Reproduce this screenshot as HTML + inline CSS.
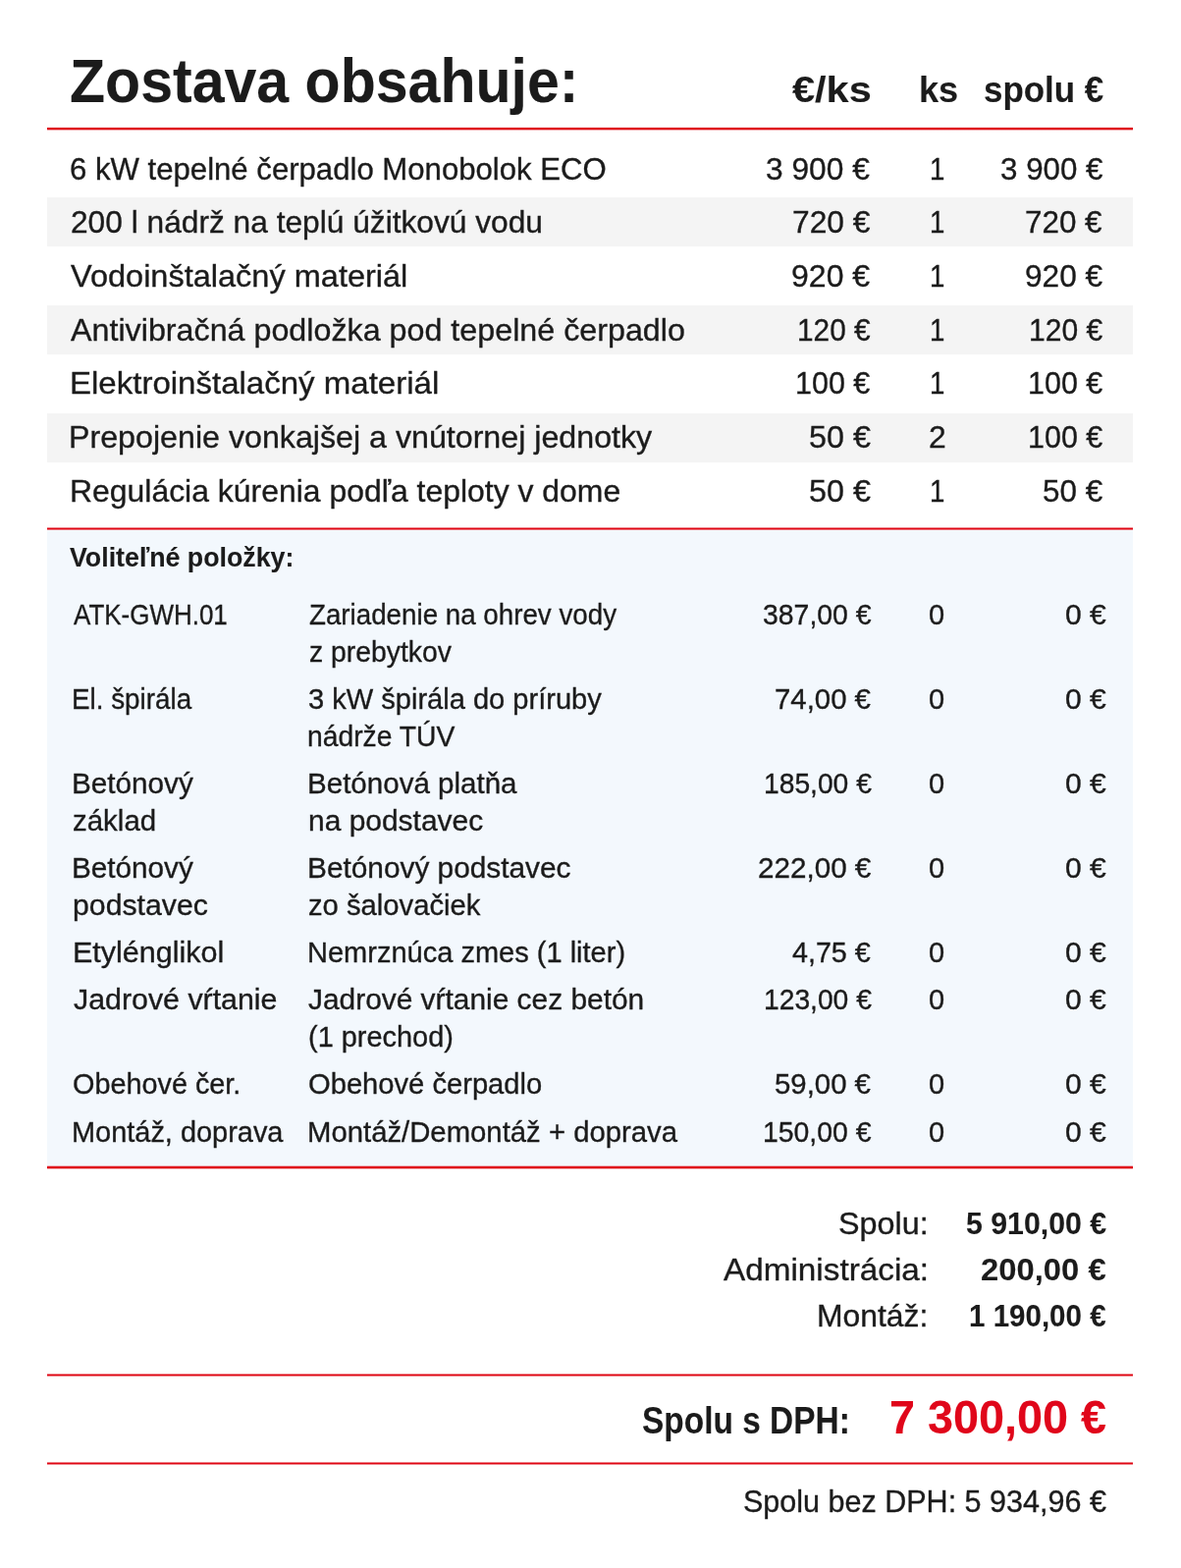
<!DOCTYPE html><html lang="sk"><head><meta charset="utf-8"><title>Zostava obsahuje</title><style>

*{margin:0;padding:0;box-sizing:border-box}
html,body{width:1203px;height:1597px;background:#fff;overflow:hidden}
body{position:relative;font-family:"Liberation Sans",Arial,sans-serif;color:#1b1b1b}
.t{position:absolute;white-space:nowrap;line-height:1;transform-origin:0 0;-webkit-text-stroke:0.35px currentColor}
.b{font-weight:700;-webkit-text-stroke:0.1px currentColor}
.bg{position:absolute;left:48px;width:1106px}
.g{background:#f4f4f4}
.lb{background:#f3f8fd}

</style></head><body>
<div class="bg g" style="top:201px;height:50px"></div>
<div class="bg g" style="top:310.5px;height:50.5px"></div>
<div class="bg g" style="top:420.7px;height:50px"></div>
<div class="bg lb" style="top:539.5px;height:648.5px"></div>
<div class="bg" style="top:129px;height:4px;background:linear-gradient(to bottom,rgba(223,6,19,0.08) 0px 1px,rgba(223,6,19,1) 1px 2px,rgba(223,6,19,1) 2px 3px,rgba(223,6,19,0.35) 3px 4px)"></div>
<div class="bg" style="top:537px;height:3px;background:linear-gradient(to bottom,rgba(223,6,19,0.5) 0px 1px,rgba(223,6,19,1) 1px 2px,rgba(223,6,19,0.55) 2px 3px)"></div>
<div class="bg" style="top:1187px;height:4px;background:linear-gradient(to bottom,rgba(223,6,19,0.3) 0px 1px,rgba(223,6,19,1) 1px 2px,rgba(223,6,19,1) 2px 3px,rgba(223,6,19,0.3) 3px 4px)"></div>
<div class="bg" style="top:1399px;height:3px;background:linear-gradient(to bottom,rgba(223,6,19,0.5) 0px 1px,rgba(223,6,19,1) 1px 2px,rgba(223,6,19,0.5) 2px 3px)"></div>
<div class="bg" style="top:1489px;height:3px;background:linear-gradient(to bottom,rgba(223,6,19,0.5) 0px 1px,rgba(223,6,19,1) 1px 2px,rgba(223,6,19,0.5) 2px 3px)"></div>
<div class="t b" id="i0" style="left:70.72px;top:50.80px;font-size:63.5px;transform:scaleX(0.9299)">Zostava obsahuje:</div>
<div class="t b" id="i1" style="left:806.63px;top:72.70px;font-size:37.5px;transform:scaleX(1.1069)">€/ks</div>
<div class="t b" id="i2" style="left:935.73px;top:72.70px;font-size:37.5px;transform:scaleX(0.9637)">ks</div>
<div class="t b" id="i3" style="left:1001.97px;top:72.70px;font-size:37.5px;transform:scaleX(0.9316)">spolu €</div>
<div class="t" id="i4" style="left:71.45px;top:155.60px;font-size:32px;transform:scaleX(0.9727)">6 kW tepelné čerpadlo Monobolok ECO</div>
<div class="t" id="i5" style="left:779.90px;top:155.60px;font-size:32px;transform:scaleX(0.9907)">3 900 €</div>
<div class="t" id="i6" style="left:946.93px;top:155.60px;font-size:32px;transform:scaleX(0.8641)">1</div>
<div class="t" id="i7" style="left:1018.66px;top:155.60px;font-size:32px;transform:scaleX(0.9790)">3 900 €</div>
<div class="t" id="i8" style="left:71.70px;top:210.10px;font-size:32px;transform:scaleX(0.9903)">200 l nádrž na teplú úžitkovú vodu</div>
<div class="t" id="i9" style="left:806.67px;top:210.10px;font-size:32px;transform:scaleX(0.9919)">720 €</div>
<div class="t" id="i10" style="left:946.93px;top:210.10px;font-size:32px;transform:scaleX(0.8641)">1</div>
<div class="t" id="i11" style="left:1044.33px;top:210.10px;font-size:32px;transform:scaleX(0.9813)">720 €</div>
<div class="t" id="i12" style="left:72.03px;top:265.20px;font-size:32px;transform:scaleX(1.0159)">Vodoinštalačný materiál</div>
<div class="t" id="i13" style="left:805.97px;top:265.20px;font-size:32px;transform:scaleX(1.0014)">920 €</div>
<div class="t" id="i14" style="left:946.93px;top:265.20px;font-size:32px;transform:scaleX(0.8641)">1</div>
<div class="t" id="i15" style="left:1044.15px;top:265.20px;font-size:32px;transform:scaleX(0.9886)">920 €</div>
<div class="t" id="i16" style="left:71.85px;top:319.90px;font-size:32px;transform:scaleX(1.0081)">Antivibračná podložka pod tepelné čerpadlo</div>
<div class="t" id="i17" style="left:811.96px;top:319.90px;font-size:32px;transform:scaleX(0.9310)">120 €</div>
<div class="t" id="i18" style="left:946.93px;top:319.90px;font-size:32px;transform:scaleX(0.8641)">1</div>
<div class="t" id="i19" style="left:1048.00px;top:319.90px;font-size:32px;transform:scaleX(0.9379)">120 €</div>
<div class="t" id="i20" style="left:70.72px;top:373.80px;font-size:32px;transform:scaleX(1.0319)">Elektroinštalačný materiál</div>
<div class="t" id="i21" style="left:809.57px;top:373.80px;font-size:32px;transform:scaleX(0.9526)">100 €</div>
<div class="t" id="i22" style="left:946.93px;top:373.80px;font-size:32px;transform:scaleX(0.8641)">1</div>
<div class="t" id="i23" style="left:1046.87px;top:373.80px;font-size:32px;transform:scaleX(0.9526)">100 €</div>
<div class="t" id="i24" style="left:70.31px;top:428.60px;font-size:32px;transform:scaleX(1.0061)">Prepojenie vonkajšej a vnútornej jednotky</div>
<div class="t" id="i25" style="left:823.52px;top:428.60px;font-size:32px;transform:scaleX(1.0089)">50 €</div>
<div class="t" id="i26" style="left:945.80px;top:428.60px;font-size:32px;transform:scaleX(0.9947)">2</div>
<div class="t" id="i27" style="left:1046.87px;top:428.60px;font-size:32px;transform:scaleX(0.9526)">100 €</div>
<div class="t" id="i28" style="left:71.13px;top:484.00px;font-size:32px;transform:scaleX(0.9975)">Regulácia kúrenia podľa teploty v dome</div>
<div class="t" id="i29" style="left:823.52px;top:484.00px;font-size:32px;transform:scaleX(1.0089)">50 €</div>
<div class="t" id="i30" style="left:946.93px;top:484.00px;font-size:32px;transform:scaleX(0.8641)">1</div>
<div class="t" id="i31" style="left:1062.21px;top:484.00px;font-size:32px;transform:scaleX(0.9812)">50 €</div>
<div class="t b" id="i32" style="left:71.17px;top:553.90px;font-size:28px;transform:scaleX(0.9559)">Voliteľné položky:</div>
<div class="t" id="i33" style="left:74.93px;top:610.80px;font-size:30px;transform:scaleX(0.8656)">ATK-GWH.01</div>
<div class="t" id="i34" style="left:314.82px;top:610.80px;font-size:30px;transform:scaleX(0.9246)">Zariadenie na ohrev vody</div>
<div class="t" id="i35" style="left:314.59px;top:648.70px;font-size:30px;transform:scaleX(0.9448)">z prebytkov</div>
<div class="t" id="i36" style="left:776.60px;top:610.80px;font-size:30px;transform:scaleX(0.9467)">387,00 €</div>
<div class="t" id="i37" style="left:946.47px;top:610.80px;font-size:30px;transform:scaleX(0.9667)">0</div>
<div class="t" id="i38" style="left:1085.45px;top:610.80px;font-size:30px;transform:scaleX(1.0024)">0 €</div>
<div class="t" id="i39" style="left:73.48px;top:696.70px;font-size:30px;transform:scaleX(0.9272)">El. špirála</div>
<div class="t" id="i40" style="left:313.97px;top:696.70px;font-size:30px;transform:scaleX(0.9687)">3 kW špirála do príruby</div>
<div class="t" id="i41" style="left:313.49px;top:734.80px;font-size:30px;transform:scaleX(0.9426)">nádrže TÚV</div>
<div class="t" id="i42" style="left:789.38px;top:696.70px;font-size:30px;transform:scaleX(0.9786)">74,00 €</div>
<div class="t" id="i43" style="left:946.47px;top:696.70px;font-size:30px;transform:scaleX(0.9667)">0</div>
<div class="t" id="i44" style="left:1085.45px;top:696.70px;font-size:30px;transform:scaleX(1.0024)">0 €</div>
<div class="t" id="i45" style="left:72.83px;top:782.80px;font-size:30px;transform:scaleX(0.9898)">Betónový</div>
<div class="t" id="i46" style="left:74.31px;top:820.80px;font-size:30px;transform:scaleX(0.9819)">základ</div>
<div class="t" id="i47" style="left:312.89px;top:782.80px;font-size:30px;transform:scaleX(0.9848)">Betónová platňa</div>
<div class="t" id="i48" style="left:313.51px;top:820.80px;font-size:30px;transform:scaleX(0.9982)">na podstavec</div>
<div class="t" id="i49" style="left:777.80px;top:782.80px;font-size:30px;transform:scaleX(0.9406)">185,00 €</div>
<div class="t" id="i50" style="left:946.47px;top:782.80px;font-size:30px;transform:scaleX(0.9667)">0</div>
<div class="t" id="i51" style="left:1085.45px;top:782.80px;font-size:30px;transform:scaleX(1.0024)">0 €</div>
<div class="t" id="i52" style="left:72.83px;top:869.00px;font-size:30px;transform:scaleX(0.9898)">Betónový</div>
<div class="t" id="i53" style="left:73.89px;top:907.00px;font-size:30px;transform:scaleX(1.0079)">podstavec</div>
<div class="t" id="i54" style="left:312.80px;top:869.00px;font-size:30px;transform:scaleX(0.9937)">Betónový podstavec</div>
<div class="t" id="i55" style="left:314.48px;top:907.00px;font-size:30px;transform:scaleX(0.9742)">zo šalovačiek</div>
<div class="t" id="i56" style="left:772.35px;top:869.00px;font-size:30px;transform:scaleX(0.9874)">222,00 €</div>
<div class="t" id="i57" style="left:946.47px;top:869.00px;font-size:30px;transform:scaleX(0.9667)">0</div>
<div class="t" id="i58" style="left:1085.45px;top:869.00px;font-size:30px;transform:scaleX(1.0024)">0 €</div>
<div class="t" id="i59" style="left:73.69px;top:955.30px;font-size:30px;transform:scaleX(1.0168)">Etylénglikol</div>
<div class="t" id="i60" style="left:313.20px;top:955.30px;font-size:30px;transform:scaleX(0.9672)">Nemrznúca zmes (1 liter)</div>
<div class="t" id="i61" style="left:807.41px;top:955.30px;font-size:30px;transform:scaleX(0.9556)">4,75 €</div>
<div class="t" id="i62" style="left:946.47px;top:955.30px;font-size:30px;transform:scaleX(0.9667)">0</div>
<div class="t" id="i63" style="left:1085.45px;top:955.30px;font-size:30px;transform:scaleX(1.0024)">0 €</div>
<div class="t" id="i64" style="left:74.66px;top:1002.80px;font-size:30px;transform:scaleX(1.0115)">Jadrové vŕtanie</div>
<div class="t" id="i65" style="left:314.10px;top:1002.80px;font-size:30px;transform:scaleX(0.9961)">Jadrové vŕtanie cez betón</div>
<div class="t" id="i66" style="left:314.22px;top:1040.80px;font-size:30px;transform:scaleX(0.9643)">(1 prechod)</div>
<div class="t" id="i67" style="left:777.80px;top:1002.80px;font-size:30px;transform:scaleX(0.9406)">123,00 €</div>
<div class="t" id="i68" style="left:946.47px;top:1002.80px;font-size:30px;transform:scaleX(0.9667)">0</div>
<div class="t" id="i69" style="left:1085.45px;top:1002.80px;font-size:30px;transform:scaleX(1.0024)">0 €</div>
<div class="t" id="i70" style="left:73.99px;top:1089.30px;font-size:30px;transform:scaleX(0.9603)">Obehové čer.</div>
<div class="t" id="i71" style="left:314.33px;top:1089.30px;font-size:30px;transform:scaleX(0.9717)">Obehové čerpadlo</div>
<div class="t" id="i72" style="left:788.94px;top:1089.30px;font-size:30px;transform:scaleX(0.9784)">59,00 €</div>
<div class="t" id="i73" style="left:946.47px;top:1089.30px;font-size:30px;transform:scaleX(0.9667)">0</div>
<div class="t" id="i74" style="left:1085.45px;top:1089.30px;font-size:30px;transform:scaleX(1.0024)">0 €</div>
<div class="t" id="i75" style="left:73.23px;top:1138.00px;font-size:30px;transform:scaleX(0.9641)">Montáž, doprava</div>
<div class="t" id="i76" style="left:313.09px;top:1138.00px;font-size:30px;transform:scaleX(0.9766)">Montáž/Demontáž + doprava</div>
<div class="t" id="i77" style="left:776.58px;top:1138.00px;font-size:30px;transform:scaleX(0.9454)">150,00 €</div>
<div class="t" id="i78" style="left:946.47px;top:1138.00px;font-size:30px;transform:scaleX(0.9667)">0</div>
<div class="t" id="i79" style="left:1085.45px;top:1138.00px;font-size:30px;transform:scaleX(1.0024)">0 €</div>
<div class="t" id="i80" style="left:854.11px;top:1230.10px;font-size:32px;transform:scaleX(1.0098)">Spolu:</div>
<div class="t b" id="i81" style="left:983.66px;top:1230.10px;font-size:32px;transform:scaleX(0.9467)">5 910,00 €</div>
<div class="t" id="i82" style="left:736.70px;top:1277.30px;font-size:32px;transform:scaleX(1.0402)">Administrácia:</div>
<div class="t b" id="i83" style="left:999.08px;top:1277.30px;font-size:32px;transform:scaleX(1.0246)">200,00 €</div>
<div class="t" id="i84" style="left:832.15px;top:1324.40px;font-size:32px;transform:scaleX(0.9959)">Montáž:</div>
<div class="t b" id="i85" style="left:986.66px;top:1324.40px;font-size:32px;transform:scaleX(0.9230)">1 190,00 €</div>
<div class="t b" id="i86" style="left:654.29px;top:1427.60px;font-size:38px;transform:scaleX(0.8802)">Spolu s DPH:</div>
<div class="t b" id="i87" style="left:906.24px;top:1418.60px;font-size:48.5px;transform:scaleX(0.9644);color:#e0061a">7 300,00 €</div>
<div class="t" id="i88" style="left:756.70px;top:1513.00px;font-size:32px;transform:scaleX(0.9537)">Spolu bez DPH: 5 934,96 €</div>
</body></html>
